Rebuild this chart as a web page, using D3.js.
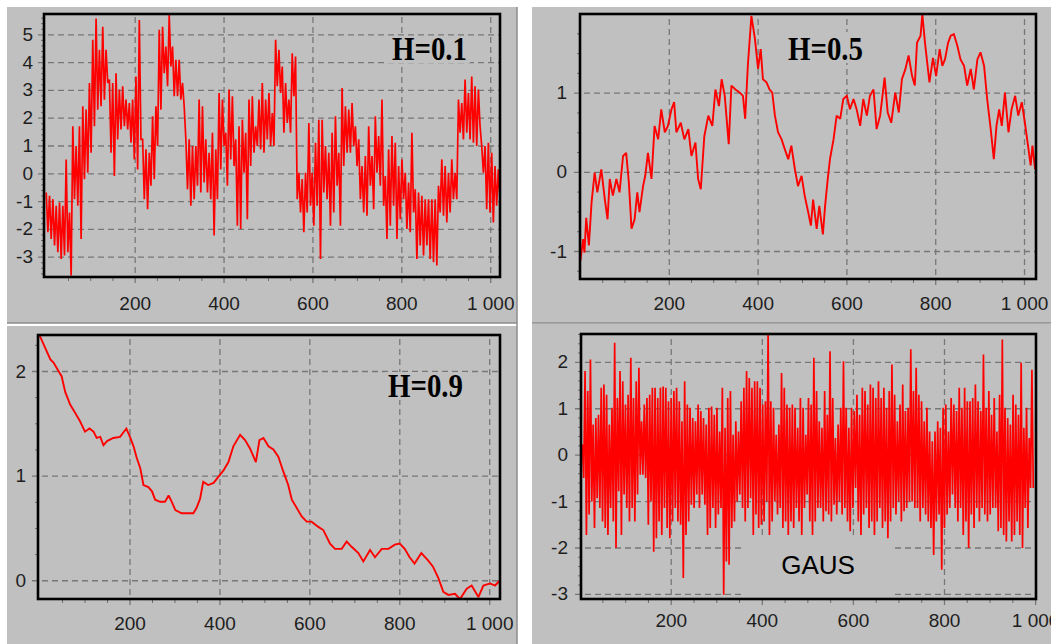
<!DOCTYPE html>
<html>
<head>
    <title>Fractional Brownian motion, H = 0.1 / 0.5 / 0.9 and Gaussian noise</title>
    <script src="https://d3js.org/d3.v7.min.js"></script>
    <style>
        body {
            margin: 0;
            background-color: #ffffff;
        }
        .tick text {
            font-family: "Liberation Sans", Arial, sans-serif;
            font-size: 19px;
            fill: #1e1e1e;
        }
    </style>
</head>
<body>
<script>
    // ---- data ----
    const xMajor = [200, 400, 600, 800, 1000];
    const xMinor = [50, 100, 150, 250, 300, 350, 450, 500, 550, 650, 700, 750, 850, 900, 950];

    // H=0.1 : high / low of each little run of samples, left to right
    const h01Span = [1, 1022];
    const h01Val = [
        -0.69,-2.12, -0.81,-2.36, -0.93,-2.60, -1.17,-2.84, -1.05,-3.08, -1.17,-2.96, 0.50,-2.84, -1.41,-3.68,
        1.69,-0.93, 0.98,-1.17, 1.69,-2.36, 2.41,-0.21, 2.29,0.02, 3.25,0.74, 4.80,1.69, 5.57,2.29,
        4.44,2.41, 5.27,2.65, 4.44,3.25, 3.37,0.74, 3.25,-0.10, 3.60,1.22, 3.01,1.58, 3.13,1.69,
        2.65,1.58, 2.53,1.10, 2.65,0.50, 3.48,0.14, 5.51,1.22, 1.22,-0.93, 0.86,-1.29, 0.74,-0.45,
        2.05,-0.21, 2.41,0.98, 5.16,2.29, 5.27,3.60, 4.56,3.13, 5.69,3.84, 4.56,2.77, 4.08,2.77,
        4.08,2.65, 3.25,2.41, 1.22,-0.57, 1.22,-1.17, 0.98,-0.93, 0.98,-0.45, 2.65,-0.69, 2.41,-0.33,
        1.22,-0.69, 0.74,-0.93, 1.46,-2.24, 0.86,-0.93, 2.89,0.14, 2.65,0.98, 1.46,-0.45, 3.01,0.50,
        2.77,0.26, 1.22,-1.89, 1.69,-2.00, 1.93,0.02, 1.46,-1.65, 2.65,0.26, 2.77,0.74, 1.69,0.98,
        2.65,0.86, 3.25,0.74, 2.65,1.22, 2.89,0.98, 2.17,0.98, 4.80,3.13, 4.44,2.89, 3.84,1.46,
        3.25,1.81, 2.65,1.46, 4.32,2.77, 4.20,-0.93, 0.02,-1.41, -0.21,-2.12, 0.02,-1.41, 1.81,-1.17,
        0.02,-1.89, 1.10,-1.17, 1.93,-3.08, 1.93,-0.69, 0.98,-0.93, 0.74,-1.89, 1.46,-1.41, 2.05,-0.45,
        0.74,-1.89, 3.07,0.26, 2.41,0.74, 2.29,0.74, 2.53,0.98, 1.69,0.26, 1.22,-0.93, 0.26,-1.41,
        0.62,-1.53, 1.69,-0.45, 0.62,-1.29, 2.05,0.02, 1.34,-0.45, 2.65,-1.17, -0.10,-2.36, 0.86,-1.89,
        1.34,-1.17, 1.10,-2.36, 0.26,-1.65, 0.50,-0.93, 0.02,-2.00, -0.33,-2.12, 1.46,-1.41, -0.57,-3.08,
        -0.69,-2.60, -0.81,-2.96, -0.93,-2.60, -0.93,-3.08, -0.93,-3.20, -0.93,-3.32, -0.45,-1.41, 0.50,-1.53,
        0.26,-1.77, 0.02,-1.41, 0.50,-0.93, 0.02,-0.93, 2.65,1.46, 2.53,1.22, 3.37,1.46, 2.89,1.22,
        3.48,1.10, 3.13,0.98, 3.01,1.69, 0.98,0.02, 0.98,-1.29, 1.10,-1.41, 0.74,-1.77, 0.26,-1.17,
        0.14,-0.93
    ];

    // H=0.5
    const h05X = [
        1, 7, 10, 14, 20, 26, 33, 39, 48, 56, 62, 67, 74, 82, 89, 97, 104, 110, 116, 123,
        129, 134, 142, 147, 153, 161, 168, 176, 183, 191, 198, 206, 212, 217, 227, 235, 244, 251, 260, 266,
        272, 280, 289, 298, 305, 313, 319, 326, 335, 341, 350, 360, 367, 372, 378, 386, 394, 401, 407, 412,
        420, 427, 433, 439, 446, 454, 461, 469, 476, 484, 491, 499, 506, 514, 520, 525, 533, 539, 547, 552,
        558, 563, 571, 578, 586, 593, 601, 608, 616, 623, 631, 638, 646, 653, 661, 668, 676, 686, 693, 701,
        710, 718, 725, 733, 740, 748, 754, 759, 767, 771, 777, 782, 787, 795, 802, 810, 816, 822, 829, 835,
        842, 850, 857, 865, 872, 880, 887, 895, 902, 910, 917, 925, 932, 938, 944, 950, 957, 965, 972, 980,
        987, 995, 1002, 1010, 1015, 1019, 1025
    ];
    const h05Y = [
        -1.12, -0.85, -1.02, -0.58, -0.93, -0.39, -0.01, -0.26, 0.03, -0.35, -0.60, -0.09, -0.30, -0.09, -0.26, 0.20, 0.24, -0.13, -0.72, -0.60,
        -0.26, -0.51, -0.18, -0.05, 0.24, -0.09, 0.58, 0.41, 0.79, 0.50, 0.58, 0.79, 0.88, 0.50, 0.62, 0.41, 0.54, 0.20, 0.37, -0.09,
        -0.22, 0.45, 0.71, 0.58, 1.04, 0.83, 1.17, 0.96, 0.35, 1.09, 1.04, 1.00, 0.96, 0.67, 1.34, 1.97, 1.68, 1.30, 1.55, 1.17,
        1.13, 1.04, 1.00, 0.71, 0.50, 0.41, 0.29, 0.16, 0.33, 0.03, -0.18, -0.05, -0.30, -0.51, -0.68, -0.35, -0.72, -0.43, -0.79, -0.43,
        -0.09, 0.16, 0.41, 0.71, 0.67, 0.92, 0.96, 0.79, 0.92, 0.79, 0.58, 0.92, 0.71, 0.96, 1.04, 0.54, 0.71, 1.19, 0.75, 0.62,
        1.00, 0.75, 1.17, 1.30, 1.47, 1.21, 1.09, 1.63, 1.72, 1.99, 1.63, 1.38, 1.13, 1.44, 1.21, 1.55, 1.34, 1.42, 1.63, 1.72,
        1.74, 1.59, 1.42, 1.34, 1.09, 1.30, 1.04, 1.42, 1.51, 1.34, 0.92, 0.54, 0.16, 0.58, 0.79, 0.58, 1.00, 0.50, 0.79, 0.96,
        0.71, 0.88, 0.62, 0.29, 0.08, 0.33, 0.03
    ];

    // H=0.9
    const h09X = [
        0, 24, 31, 42, 49, 57, 68, 79, 90, 101, 111, 120, 127, 135, 142, 150, 164, 179, 193, 201,
        209, 216, 224, 231, 242, 250, 257, 268, 279, 287, 294, 302, 316, 331, 342, 349, 357, 364, 375, 387,
        398, 409, 420, 431, 446, 457, 468, 481, 489, 498, 509, 520, 531, 542, 553, 561, 572, 583, 594, 605,
        620, 631, 646, 657, 672, 683, 694, 709, 720, 735, 746, 761, 776, 790, 801, 812, 823, 834, 849, 864,
        875, 887, 898, 909, 924, 935, 950, 961, 976, 987, 1002, 1013, 1024
    ];
    const h09Y = [
        2.34, 2.11, 2.08, 2.00, 1.95, 1.80, 1.68, 1.60, 1.52, 1.42, 1.45, 1.42, 1.36, 1.37, 1.29, 1.33, 1.36, 1.37, 1.45, 1.37,
        1.28, 1.17, 1.07, 0.91, 0.89, 0.85, 0.77, 0.75, 0.75, 0.81, 0.75, 0.67, 0.64, 0.64, 0.64, 0.69, 0.78, 0.94, 0.91, 0.93,
        0.99, 1.05, 1.13, 1.28, 1.39, 1.34, 1.26, 1.13, 1.34, 1.36, 1.28, 1.25, 1.18, 1.04, 0.91, 0.77, 0.69, 0.61, 0.56, 0.56,
        0.51, 0.48, 0.35, 0.30, 0.30, 0.37, 0.32, 0.26, 0.18, 0.29, 0.22, 0.30, 0.30, 0.34, 0.35, 0.30, 0.22, 0.16, 0.26, 0.19,
        0.13, 0.02, -0.11, -0.14, -0.13, -0.18, -0.08, -0.05, -0.16, -0.05, -0.03, -0.05, 0.00
    ];

    // GAUS : high / low of each little run of samples
    const gausSpan = [6, 996];
    const gausVal = [
        0.22,-0.5, 1.8,-1.73, 1.37,-1.29, 2.05,-1.01, 0.65,-1.58, 0.79,-0.94, 0.86,-1.15, 1.44,-1.44,
        1.51,-1.58, 1.29,-1.73, 0.65,-1.15, 1.01,-1.44, 2.41,-2.01, 1.22,-0.79, 1.8,-1.73, 1.58,-0.86,
        1.08,-1.15, 1.29,-1.44, 2.09,-1.15, 1.22,-1.44, 1.58,-0.86, 1.87,-0.43, 0.72,-0.43, 1.08,-0.5,
        1.22,-1.51, 1.29,-1.01, 1.44,-2.09, 1.44,-1.8, 1.22,-1.44, 1.44,-1.73, 1.47,-1.15, 1.44,-1.58,
        1.15,-1.8, 1.22,-1.44, 1.37,-1.15, 1.44,-1.44, 1.15,-1.51, 0.72,-2.66, 1.58,-1.73, 1.08,-1.44,
        1.01,-1.08, 0.79,-1.15, 0.72,-0.86, 1.08,-1.15, 0.94,-0.86, 0.79,-1.08, 0.65,-1.73, 1.01,-1.58,
        1.04,-1.15, 0.86,-1.58, 1.01,-1.29, 0.5,-1.15, 1.44,-3.02, 0.58,-2.3, 1.22,-2.37, 1.37,-1.58,
        0.43,-1.44, 0.72,-1.01, 0.5,-0.86, 1.15,-1.15, 1.44,-1.44, 1.8,-1.15, 1.65,-0.94, 1.44,-1.73,
        1.58,-1.29, 1.58,-1.58, 1.44,-1.51, 1.08,-1.44, 1.15,-1.01, 2.63,-1.73, 1.15,-1.44, 1.01,-1.01,
        0.43,-1.29, 0.65,-1.15, 1.76,-1.58, 1.44,-1.44, 1.08,-1.73, 1.01,-1.44, 1.08,-1.58, 1.01,-1.15,
        0.58,-1.44, 1.22,-1.73, 1.01,-1.15, 0.43,-0.86, 1.22,-1.44, 1.08,-1.73, 2.09,-1.44, 1.37,-1.15,
        0.72,-1.15, 0.58,-1.44, 1.37,-1.22, 0.86,-1.29, 2.23,-1.44, 1.22,-1.08, 0.36,-1.29, 0.65,-1.01,
        1.01,-1.29, 2.01,-1.15, 1.01,-1.44, 0.58,-1.65, 1.01,-1.15, 0.94,-0.72, 1.29,-1.44, 0.86,-1.73,
        1.44,-1.29, 1.37,-1.15, 1.08,-1.58, 1.51,-1.44, 1.44,-1.73, 1.22,-1.44, 1.58,-1.15, 1.22,-1.58,
        1.44,-1.44, 1.01,-1.8, 1.37,-1.44, 1.94,-1.15, 1.29,-1.29, 0.72,-1.01, 1.08,-1.44, 1.51,-1.22,
        0.94,-1.15, 1.01,-1.01, 2.27,-1.01, 1.37,-1.15, 1.87,-1.15, 1.29,-1.44, 1.15,-1.15, 0.72,-1.29,
        1.01,-1.44, 0.5,-1.58, 0.29,-2.16, 0.5,-1.44, 0.72,-1.29, 0.58,-2.48, 1.01,-1.58, 1.08,-1.29,
        0.5,-1.15, 1.22,-0.86, 1.08,-1.15, 0.94,-1.44, 1.44,-1.15, 1.01,-1.73, 1.44,-1.44, 1.15,-2.01,
        1.15,-1.29, 1.22,-1.58, 1.51,-1.15, 1.15,-1.44, 0.94,-1.15, 2.16,-1.29, 1.01,-1.44, 1.37,-1.29,
        0.86,-1.15, 1.22,-1.15, 0.5,-1.65, 1.29,-1.58, 2.48,-1.73, 1.01,-1.87, 0.79,-1.44, 0.65,-1.87,
        1.29,-1.73, 1.08,-1.44, 0.86,-1.73, 1.98,-2.01, 0.58,-1.15, 1.01,-1.58, 0.36,-0.72, 1.83,-0.72
    ];

    // evenly spaced samples between the first and last position
    function spread(vals, span) {
        const pos = d3.scaleLinear().domain([0, vals.length - 1]).range(span);
        return vals.map((v, i) => [pos(i), v]);
    }

    const panels = [
        {name: "p1", label: "H=0.1", data: spread(h01Val, h01Span), width: 1.7,
         frame: [44, 14, 500, 277], xDomain: [-4, 1022], yDomain: [-3.73, 5.73],
         yTicks: [-3, -2, -1, 0, 1, 2, 3, 4, 5], yMinor: 0.2, xPad: 14, yPad: 5,
         box: [388, 36, 82, 27], text: [392, 60]},
        {name: "p2", label: "H=0.5", data: h05X.map((v, i) => [v, h05Y[i]]), width: 1.9,
         frame: [580, 14, 1036, 279], xDomain: [0, 1027], yDomain: [-1.354, 1.994],
         yTicks: [-1, 0, 1], yMinor: 0.25, xPad: 12, yPad: 7,
         box: [784, 32, 85, 31], text: [788, 60]},
        {name: "p3", label: "H=0.9", data: h09X.map((v, i) => [v, h09Y[i]]), width: 1.9,
         frame: [38, 335, 500, 599], xDomain: [-3.5, 1024], yDomain: [-0.179, 2.344],
         yTicks: [0, 1, 2], yMinor: 0.25, xPad: 12, yPad: 6,
         box: [385, 372, 82, 28], text: [388, 397]},
        {name: "p4", label: "GAUS", data: spread(gausVal, gausSpan), width: 1.7,
         frame: [581, 334, 1036, 599], xDomain: [3, 1002], yDomain: [-3.11, 2.60],
         yTicks: [-3, -2, -1, 0, 1, 2], yMinor: 0.2, xPad: 9, yPad: 7,
         box: [743, 539, 149, 60], text: [818, 574], sans: true}
    ];

    const locale = d3.formatLocale({decimal: ".", thousands: " ", grouping: [3], currency: ["", ""], minus: "-"});
    const fmt = locale.format(",");

    const svg = d3.select("body").append("svg")
        .attr("width", 1051)
        .attr("height", 644);

    // grey window panes
    const panes = [[7, 7, 510, 316], [532, 7, 519, 316], [7, 326, 510, 318], [532, 324, 519, 320]];
    svg.selectAll(".pane")
        .data(panes)
        .enter()
        .append("rect")
        .attr("class", "pane")
        .attr("x", d => d[0])
        .attr("y", d => d[1])
        .attr("width", d => d[2])
        .attr("height", d => d[3])
        .style("fill", "#c0c0c0");

    // darker edges between panes
    svg.append("line").attr("x1", 517).attr("x2", 517).attr("y1", 7).attr("y2", 644)
        .style("stroke", "#8c8c8c").style("stroke-width", 1.5);
    svg.append("line").attr("x1", 7).attr("x2", 517).attr("y1", 323).attr("y2", 323)
        .style("stroke", "#8c8c8c").style("stroke-width", 1.5);
    svg.append("line").attr("x1", 532).attr("x2", 1051).attr("y1", 323).attr("y2", 323)
        .style("stroke", "#8c8c8c").style("stroke-width", 1.5);

    panels.forEach(drawPanel);

    function drawPanel(p) {
        const [x0, y0, x1, y1] = p.frame;
        const w = x1 - x0, h = y1 - y0;
        const g = svg.append("g").attr("class", p.name);

        const x = d3.scaleLinear().domain(p.xDomain).range([x0, x1]);
        const y = d3.scaleLinear().domain(p.yDomain).range([y1, y0]);

        // minor ticks first, under the frame
        const yMinor = d3.range(Math.ceil(p.yDomain[0] / p.yMinor), Math.floor(p.yDomain[1] / p.yMinor) + 1)
            .map(k => +(k * p.yMinor).toFixed(3))
            .filter(v => p.yTicks.indexOf(v) < 0);
        g.append("g")
            .attr("transform", "translate(" + x0 + ",0)")
            .call(d3.axisLeft(y).tickValues(yMinor).tickSize(3).tickFormat(""))
            .call(s => s.select(".domain").remove())
            .call(s => s.selectAll("line").style("stroke", "#6e6e6e"));
        g.append("g")
            .attr("transform", "translate(0," + y1 + ")")
            .call(d3.axisBottom(x).tickValues(xMinor).tickSize(4).tickFormat(""))
            .call(s => s.select(".domain").remove())
            .call(s => s.selectAll("line").style("stroke", "#6e6e6e"));

        // x grid + ticks + labels
        g.append("g")
            .attr("transform", "translate(0," + (y1 + 6) + ")")
            .call(d3.axisBottom(x).tickValues(xMajor).tickSize(-(h + 6)).tickPadding(p.xPad).tickFormat(fmt))
            .call(s => s.select(".domain").remove())
            .call(s => s.selectAll("line")
                .style("stroke", "#777777")
                .style("stroke-width", 1.3)
                .style("stroke-dasharray", "6,4"));

        // y grid + ticks + labels
        g.append("g")
            .attr("transform", "translate(" + (x0 - 6) + ",0)")
            .call(d3.axisLeft(y).tickValues(p.yTicks).tickSize(-(w + 6)).tickPadding(p.yPad).tickFormat(fmt))
            .call(s => s.select(".domain").remove())
            .call(s => s.selectAll("line")
                .style("stroke", "#777777")
                .style("stroke-width", 1.3)
                .style("stroke-dasharray", "6,4"));

        // series, clipped to the plot area
        g.append("clipPath")
            .attr("id", "clip-" + p.name)
            .append("rect")
            .attr("x", x0).attr("y", y0).attr("width", w).attr("height", h);

        const line = d3.line()
            .x(d => x(d[0]))
            .y(d => y(d[1]));

        g.append("path")
            .datum(p.data)
            .attr("clip-path", "url(#clip-" + p.name + ")")
            .attr("d", line)
            .style("fill", "none")
            .style("stroke", "#ff0000")
            .style("stroke-width", p.width)
            .style("stroke-linejoin", "miter")
            .style("stroke-miterlimit", 2);

        // caption on its own grey patch
        g.append("rect")
            .attr("x", p.box[0]).attr("y", p.box[1])
            .attr("width", p.box[2]).attr("height", p.box[3])
            .style("fill", "#c0c0c0");

        const t = g.append("text")
            .attr("x", p.text[0])
            .attr("y", p.text[1])
            .style("fill", "#000000")
            .text(p.label);
        if (p.sans) {
            t.style("font-family", "Liberation Sans, Arial, sans-serif")
                .style("font-size", "26px")
                .style("text-anchor", "middle");
        } else {
            t.style("font-family", "Liberation Serif, Times New Roman, serif")
                .style("font-weight", "bold")
                .style("font-size", "34px")
                .attr("textLength", 75)
                .attr("lengthAdjust", "spacingAndGlyphs");
        }

        // black frame
        g.append("rect")
            .attr("x", x0).attr("y", y0).attr("width", w).attr("height", h)
            .style("fill", "none")
            .style("stroke", "#000000")
            .style("stroke-width", 2.6);
    }
</script>
</body>
</html>
